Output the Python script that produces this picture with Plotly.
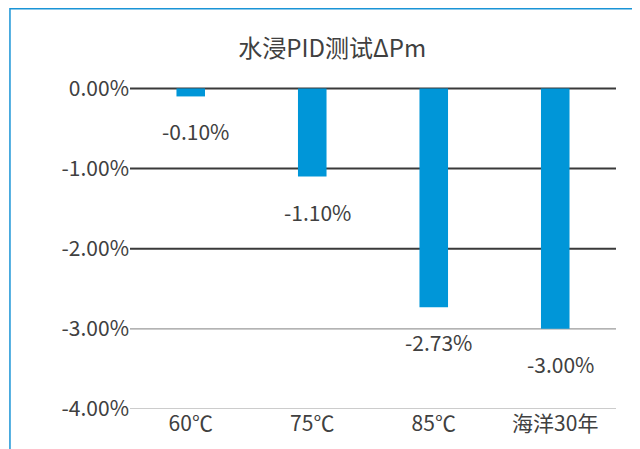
import plotly.graph_objects as go

categories = ["60℃", "75℃", "85℃", "海洋30年"]
values = [-0.10, -1.10, -2.73, -3.00]
labels = ["-0.10%", "-1.10%", "-2.73%", "-3.00%"]
tick_vals = [0, -1, -2, -3, -4]
tick_text = ["0.00%", "-1.00%", "-2.00%", "-3.00%", "-4.00%"]
title_text = "水浸PID测试ΔPm"

FONT = "Noto Sans CJK SC, Noto Sans, sans-serif"
TXT = "#404040"
BLUE = "#0096D8"

fig = go.Figure()
fig.add_trace(go.Bar(
    x=categories, y=values, marker=dict(color=BLUE, line=dict(width=0)),
    width=0.235, hoverinfo="skip",
))

for c, v, t in zip(categories, values, labels):
    fig.add_annotation(x=c, y=v, text=t, showarrow=False, yshift=-35, xshift=5,
                       font=dict(family=FONT, size=21, color=TXT))

dark = {0, -1, -2}
for v in tick_vals:
    fig.add_shape(type="line", xref="paper", yref="y", x0=0, x1=1, y0=v, y1=v,
                  line=dict(color="#3a3a3a" if v in dark else "#9a9a9a",
                            width=2 if v in dark else 1.2),
                  layer="below")

# outer frame (partially visible)
fig.add_shape(type="rect", xref="paper", yref="paper",
              x0=-0.247, x1=1.2, y0=-0.3, y1=1.224,
              line=dict(color="#1a94d6", width=1.5))

fig.update_layout(
    width=632, height=441,
    margin=dict(l=122, r=24, t=74, b=37),
    paper_bgcolor="white", plot_bgcolor="white",
    showlegend=False,
    title=dict(text=title_text, x=0.513, xanchor="center", y=0.909, yanchor="middle",
               font=dict(family=FONT, size=24, color=TXT)),
    font=dict(family=FONT, size=21, color=TXT),
    xaxis=dict(showgrid=False, showline=False, ticks="", zeroline=False,
               tickfont=dict(family=FONT, size=21, color=TXT)),
    yaxis=dict(range=[-4, 0.08], tickvals=tick_vals, ticktext=tick_text,
               showgrid=False, zeroline=False, showline=False, ticks="",
               ticklabelstandoff=0,
               tickfont=dict(family=FONT, size=21, color=TXT)),
)

fig.write_html("out.html")
